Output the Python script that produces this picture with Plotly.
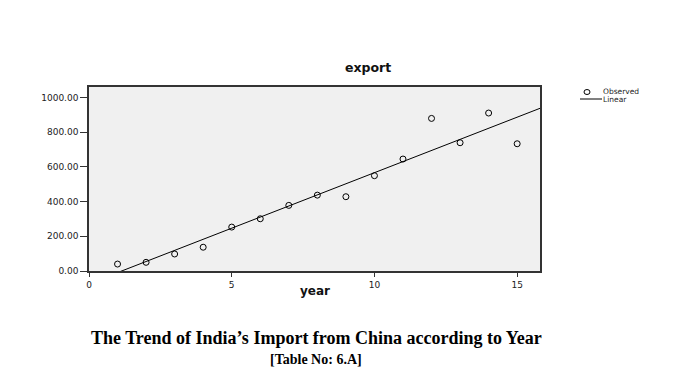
import numpy as np
import plotly.graph_objects as go

years = list(range(1, 16))
export = [40, 50, 98, 137, 253, 301, 378, 437, 428, 549, 645, 879, 739, 910, 733]
y_ticks = [0, 200, 400, 600, 800, 1000]
y_tick_labels = ["0.00", "200.00", "400.00", "600.00", "800.00", "1000.00"]
x_ticks = [0, 5, 10, 15]

X_RANGE = [0, 15.8]
Y_RANGE = [0, 1060]

slope, intercept = np.polyfit(years, export, 1)
fit_x = np.array(X_RANGE)
fit_y = slope * fit_x + intercept

W, H = 687, 379
L, R, T, B = 89, 540, 87, 271

def px(x):
    return (x - L) / (R - L)

def py(y):
    return (B - y) / (B - T)

fig = go.Figure()
fig.add_trace(go.Scatter(x=fit_x, y=fit_y, mode="lines",
                         line=dict(color="black", width=1), showlegend=False,
                         hoverinfo="skip"))
fig.add_trace(go.Scatter(x=years, y=export, mode="markers",
                         marker=dict(symbol="circle-open", size=6, color="black",
                                     line=dict(width=1, color="black")),
                         showlegend=False))

axis_font = dict(family="DejaVu Sans", size=9, color="#222")
legend_font = dict(family="DejaVu Sans", size=7.5, color="#222")
fig.update_xaxes(range=X_RANGE, tickvals=x_ticks, ticks="outside", ticklen=4,
                 tickcolor="#333", showline=True, linecolor="#333", linewidth=1.5,
                 mirror=True, showgrid=False, zeroline=False, tickfont=axis_font)
fig.update_yaxes(range=Y_RANGE, tickvals=y_ticks, ticktext=y_tick_labels,
                 ticks="outside", ticklen=7, tickcolor="#333", showline=True,
                 linecolor="#333", linewidth=1.5, mirror=True, showgrid=False,
                 zeroline=False, tickfont=axis_font)

annotations = [
    dict(text="<b>export</b>", x=px(368), y=py(67), xref="paper", yref="paper",
         showarrow=False, font=dict(family="DejaVu Sans", size=12.5, color="#111"),
         xanchor="center", yanchor="middle"),
    dict(text="<b>year</b>", x=px(315), y=py(291), xref="paper", yref="paper",
         showarrow=False, font=dict(family="DejaVu Sans", size=12, color="#111"),
         xanchor="center", yanchor="middle"),
    dict(text="Observed", x=px(602), y=py(91.5), xref="paper", yref="paper",
         showarrow=False, font=legend_font, xanchor="left", yanchor="middle",
         borderpad=0),
    dict(text="Linear", x=px(602), y=py(99.5), xref="paper", yref="paper",
         showarrow=False, font=legend_font, xanchor="left", yanchor="middle",
         borderpad=0),
    dict(text="<b>The Trend of India’s Import from China according to Year</b>",
         x=px(316), y=py(338), xref="paper", yref="paper", showarrow=False,
         font=dict(family="Liberation Serif", size=18, color="black"),
         xanchor="center", yanchor="middle"),
    dict(text="<b>[Table No: 6.A]</b>", x=px(316), y=py(359), xref="paper",
         yref="paper", showarrow=False,
         font=dict(family="Liberation Serif", size=14, color="black"),
         xanchor="center", yanchor="middle"),
]

shapes = [
    dict(type="circle", xref="paper", yref="paper",
         x0=px(584), x1=px(590), y0=py(89.5), y1=py(94.5),
         line=dict(color="black", width=1)),
    dict(type="line", xref="paper", yref="paper",
         x0=px(580), x1=px(602), y0=py(99), y1=py(99),
         line=dict(color="black", width=1)),
]

fig.update_layout(width=W, height=H, margin=dict(l=L, r=W - R, t=T, b=H - B),
                  paper_bgcolor="white", plot_bgcolor="#f0f0f0",
                  annotations=annotations, shapes=shapes, showlegend=False)

fig.write_html("out.html", config={"displayModeBar": False},
               post_script="document.body.style.margin='0';document.body.style.padding='0';")
